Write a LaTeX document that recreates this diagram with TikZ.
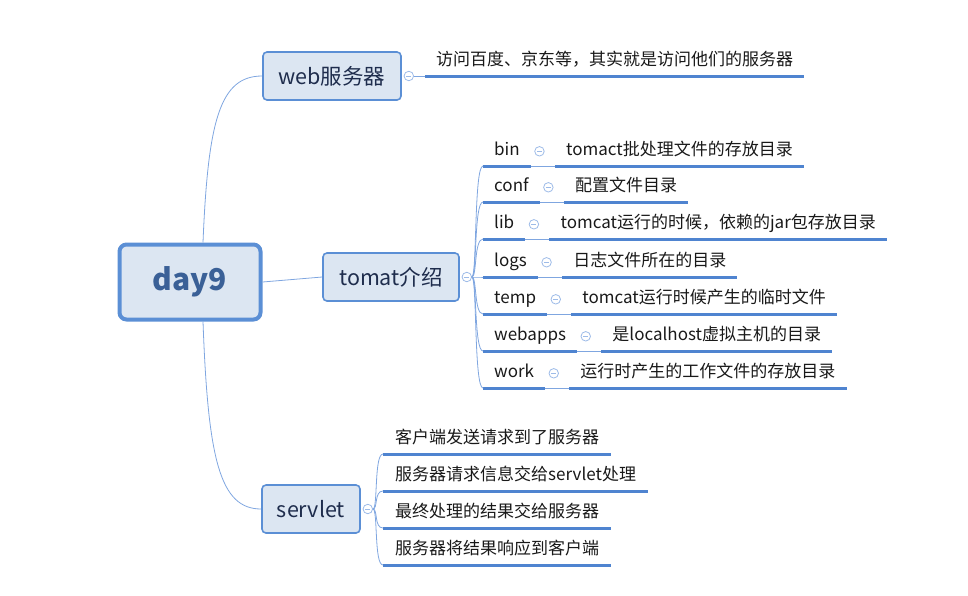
\documentclass[tikz,border=0pt]{standalone}
\usepackage{fontspec}
\setmainfont{Noto Sans CJK SC}
\usepackage{tikz}
\definecolor{boxfill}{HTML}{DCE6F2}
\definecolor{boxblue}{HTML}{5B8FD5}
\definecolor{lineblue}{HTML}{4F84D0}
\definecolor{twigblue}{HTML}{7FA6E0}
\definecolor{foldblue}{HTML}{9DBBE8}
\definecolor{topictext}{HTML}{1F2D4D}
\definecolor{roottext}{HTML}{3A6097}
\tikzset{
  topic/.style={draw=boxblue, fill=boxfill, line width=1.6pt, rounded corners=4pt,
    text=topictext, font=\fontsize{21.5}{24}\selectfont, minimum height=48pt, inner sep=0pt},
  rootbox/.style={topic, line width=4pt, rounded corners=7pt, text=roottext,
    font=\bfseries\fontsize{30}{34}\selectfont, minimum width=141pt, minimum height=75pt},
  leaf/.style={anchor=south west, inner xsep=11pt, inner ysep=6pt, text height=13pt,
    text depth=4pt, text=black!90, font=\fontsize{17}{20}\selectfont},
  uline/.style={draw=lineblue, line width=3pt},
  twig/.style={draw=twigblue, line width=0.8pt},
  fold/.style={circle, draw=foldblue, fill=white, line width=0.8pt, minimum size=9.5pt,
    inner sep=0pt, path picture={\draw[foldblue, line width=0.8pt]
      ([xshift=2.3pt]path picture bounding box.west) --
      ([xshift=-2.3pt]path picture bounding box.east);}}
}
\begin{document}
\begin{tikzpicture}[x=1pt,y=-1pt]
  \useasboundingbox (0,0) rectangle (968,595);

  \node[rootbox] (root) at (190,282) {day9};
  \node[topic, minimum width=138pt] (web) at (332,76) {web服务器};
  \node[topic, minimum width=136pt] (tomat) at (391,277) {tomat介绍};
  \node[topic, minimum width=98pt] (servlet) at (311,509) {servlet};

  \draw[twig] ([xshift=13pt]root.north) .. controls (208,120) and (220,76) .. (web.west);
  \draw[twig] (root.east) -- (tomat.west);
  \draw[twig] ([xshift=13pt]root.south) .. controls (208,460) and (220,509) .. (servlet.west);

  % web
  \node[fold] (webf) at ([xshift=7pt]web.east) {};
  \node[leaf] (webd) at (425,76) {访问百度、京东等，其实就是访问他们的服务器};
  \draw[uline] (webd.south west) -- (webd.south east);
  \draw[twig] (webf.east) -- (webd.south west);

  % tomat
  \node[fold] (tomatf) at ([xshift=7pt]tomat.east) {};
  \foreach \nm/\txt/\yy in {bin/{tomact批处理文件的存放目录}/166, conf/{配置文件目录}/202,
      lib/{tomcat运行的时候，依赖的jar包存放目录}/239, logs/{日志文件所在的目录}/277,
      temp/{tomcat运行时候产生的临时文件}/314, webapps/{是localhost虚拟主机的目录}/351,
      work/{运行时产生的工作文件的存放目录}/388}{
    \node[leaf] (\nm) at (483,\yy) {\nm};
    \draw[uline] (\nm.south west) -- (\nm.south east);
    \node[fold] (\nm f) at ([xshift=8.5pt]\nm.east) {};
    \node[leaf] (\nm d) at ([xshift=24pt]\nm.south east) {\txt};
    \draw[uline] (\nm d.south west) -- (\nm d.south east);
    \draw[twig] (\nm.south east) -- (\nm d.south west);
    \draw[twig] (tomatf.east) .. controls +(5,0) and +(-9,0) .. (\nm.south west);
  }

  % servlet
  \node[fold] (servletf) at ([xshift=7pt]servlet.east) {};
  \foreach \nm/\txt/\yy in {s1/{客户端发送请求到了服务器}/454, s2/{服务器请求信息交给servlet处理}/491,
      s3/{最终处理的结果交给服务器}/528, s4/{服务器将结果响应到客户端}/565}{
    \node[leaf, inner xsep=12pt] (\nm) at (383,\yy) {\txt};
    \draw[uline] (\nm.south west) -- (\nm.south east);
    \draw[twig] (servletf.east) .. controls +(5,0) and +(-9,0) .. (\nm.south west);
  }
\end{tikzpicture}
\end{document}
